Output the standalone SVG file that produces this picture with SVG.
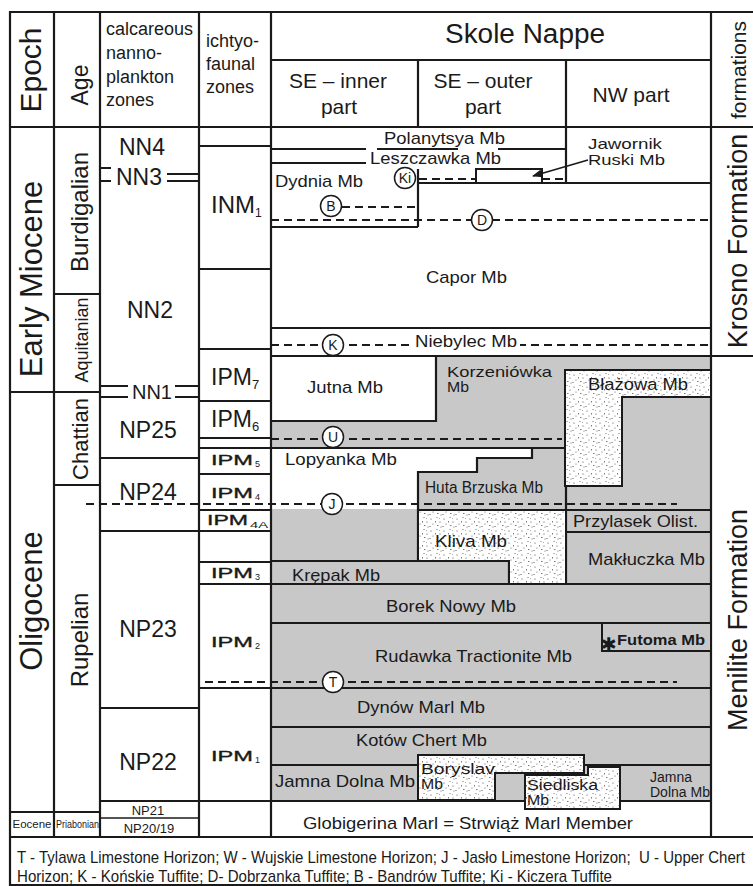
<svg xmlns="http://www.w3.org/2000/svg" width="753" height="886" viewBox="0 0 753 886">
<style>
.ln{stroke:#1a1a1a;stroke-width:2.2;fill:none}
.th{stroke:#1a1a1a;stroke-width:1.5;fill:none}
.ds{stroke:#1a1a1a;stroke-width:2;stroke-dasharray:8 5;fill:none}
.t{font-family:"Liberation Sans",Arial,sans-serif;fill:#1a1a1a}
.b{stroke:#1a1a1a;stroke-width:0.35}
.gr{fill:#c8c8c8}
.st{fill:url(#dots);stroke:#1a1a1a;stroke-width:2}
.cc{fill:#fff;stroke:#1a1a1a;stroke-width:1.5}
.cl{font-family:"Liberation Sans",Arial,sans-serif;font-size:14px;fill:#1a1a1a;text-anchor:middle}
.m{font-size:17px}
.mid{text-anchor:middle}
</style>
<defs>
<pattern id="dots" width="13" height="12" patternUnits="userSpaceOnUse">
<rect width="13" height="12" fill="#fff"/>
<g fill="#444">
<circle cx="2" cy="3" r="0.6"/><circle cx="8" cy="1.5" r="0.5"/><circle cx="11" cy="6" r="0.6"/>
<circle cx="4" cy="8" r="0.5"/><rect x="8" y="9" width="1.5" height="0.7"/><circle cx="12" cy="11" r="0.5"/>
<circle cx="1" cy="10.5" r="0.6"/><rect x="6" y="5" width="0.7" height="1.5"/><circle cx="10.5" cy="2.5" r="0.4"/>
</g>
</pattern>
<marker id="ah" markerWidth="10" markerHeight="8" refX="9" refY="4" orient="auto" markerUnits="userSpaceOnUse">
<path d="M0,0 L10,4 L0,8 Z" fill="#1a1a1a"/>
</marker>
</defs>
<rect width="753" height="886" fill="#fff"/>

<!-- lower main area fills -->
<g id="fills">
<rect class="gr" x="271" y="356" width="440" height="445"/>
<rect x="271" y="356" width="165" height="65" fill="#fff"/>
<polygon points="271,448 532,448 532,458 477,458 477,472 418,472 418,509 271,509" fill="#fff"/>
</g>

<!-- frame and grid -->
<g id="grid">
<path class="ln" d="M10,886 V12 H753 M10,127 H753 M271,60 H711 M10,837 H753 M10,885 H753"/>
<path class="ln" d="M54,12 V837 M100,12 V837 M199,12 V837 M271,12 V837 M711,12 V837 M418,60 V127 M566,60 V184"/>
<path class="ln" d="M10,392 H100 M10,812 H100 M54,294 H100 M54,485 H100 M711,356 H753"/>
<path class="ln" d="M100,168 H111 M100,181 H111 M167,174 H199 M167,181 H199 M100,386 H128 M100,397 H128 M175,386 H199 M175,397 H199 M100,458 H199 M100,531 H199 M100,708 H199 M100,801 H199"/>
<path class="th" d="M100,818 H199"/>
<path class="ln" d="M199,146 H271 M199,269 H271 M199,349 H271 M199,401 H271 M199,438 H271 M199,448 H271 M199,474 H271 M199,510 H271 M199,531 H271 M199,562 H271 M199,584 H271 M199,801 H271"/>
</g>

<!-- Krosno area lines -->
<g id="krosno-lines">
<path class="ln" d="M271,149 H366 M377,149 H458 M498,149 H566 M271,163 H366"/>
<path class="ln" d="M418,169 V227 M418,183 H711 M271,227 H418"/>
<rect x="476" y="169" width="66" height="14" fill="#fff" stroke="#1a1a1a" stroke-width="2"/>
<path class="ds" d="M419,179 H476 M542,179 H566 M342,207 H418 M271,220 H711"/>
<path class="ln" d="M271,328 H711 M271,356 H711"/>
<path class="ds" d="M271,345 H711"/>
<rect x="412" y="334" width="108" height="17" fill="#fff"/>
<line x1="588" y1="160" x2="533" y2="176" stroke="#1a1a1a" stroke-width="1.5" marker-end="url(#ah)"/>
</g>

<!-- Menilite area lines and shapes -->
<g id="menilite-lines">
<path class="ln" d="M436,356 V421 H271"/>
<polygon class="st" points="565,370 711,370 711,397 622,397 622,486 565,486"/>
<path class="ds" d="M271,439 H562"/>
<path class="ln" d="M271,448 H566 M532,448 V458 H477 V472 H418 V561 M566,486 V584"/>
<path class="ln" d="M418,510 H711 M566,532 H711 M271,561 H509 V584 M271,584 H711 M271,623 H711 M199,688 H711 M271,727 H711 M271,765 H711 M271,801 H711"/>
<polygon class="st" points="418,510 566,510 566,584 509,584 509,561 418,561"/>
<rect class="gr" x="602" y="623" width="109" height="28" stroke="#1a1a1a" stroke-width="2"/>
<polygon class="st" points="418,755 584,755 584,773 495,773 495,800 418,800"/>
<polygon class="st" points="525,775 588,775 588,767 620,767 620,809 525,809"/>
<path class="ds" d="M86,504 H677 M205,682 H677"/>
</g>

<!-- horizon markers -->
<g id="markers">
<circle class="cc" cx="405" cy="178" r="10.5"/><text class="cl" x="405" y="183">Ki</text>
<circle class="cc" cx="331" cy="206" r="10.5"/><text class="cl" x="331" y="211">B</text>
<circle class="cc" cx="482" cy="220" r="10.5"/><text class="cl" x="482" y="225">D</text>
<circle class="cc" cx="333" cy="345" r="10.5"/><text class="cl" x="333" y="350">K</text>
<circle class="cc" cx="333" cy="437" r="10.5"/><text class="cl" x="333" y="442">U</text>
<circle class="cc" cx="332" cy="504" r="10.5"/><text class="cl" x="332" y="509">J</text>
<circle class="cc" cx="333" cy="682" r="10.5"/><text class="cl" x="333" y="687">T</text>
</g>

<!-- header -->
<g id="header">
<text class="t mid" font-size="30" transform="translate(41,70) rotate(-90)">Epoch</text>
<text class="t mid" font-size="23" transform="translate(88,85) rotate(-90)">Age</text>
<text class="t" font-size="18"><tspan x="106" y="35">calcareous</tspan><tspan x="106" y="59">nanno-</tspan><tspan x="106" y="83">plankton</tspan><tspan x="106" y="106">zones</tspan></text>
<text class="t" font-size="18"><tspan x="206" y="47">ichtyo-</tspan><tspan x="206" y="70">faunal</tspan><tspan x="206" y="93">zones</tspan></text>
<text class="t mid" font-size="27" x="525" y="43" textLength="160" lengthAdjust="spacingAndGlyphs">Skole Nappe</text>
<text class="t mid" font-size="21"><tspan x="338" y="88">SE – inner</tspan><tspan x="339" y="114">part</tspan></text>
<text class="t mid" font-size="21"><tspan x="483" y="88">SE – outer</tspan><tspan x="483" y="114">part</tspan></text>
<text class="t mid" font-size="21" x="631" y="102">NW part</text>
<text class="t mid" font-size="21" transform="translate(746,70) rotate(-90)">formations</text>
</g>

<!-- epoch / age -->
<g id="epochs">
<text class="t mid" font-size="31" transform="translate(42,279) rotate(-90)">Early Miocene</text>
<text class="t mid" font-size="31" transform="translate(42,601) rotate(-90)">Oligocene</text>
<text class="t mid" font-size="11" x="32" y="828" textLength="39" lengthAdjust="spacingAndGlyphs">Eocene</text>
</g>
<g id="ages">
<text class="t mid" font-size="24" transform="translate(88,212) rotate(-90)">Burdigalian</text>
<text class="t mid" font-size="18" transform="translate(88,340) rotate(-90)">Aquitanian</text>
<text class="t mid" font-size="22" transform="translate(88,439) rotate(-90)">Chattian</text>
<text class="t mid" font-size="24" transform="translate(88,640) rotate(-90)">Rupelian</text>
<text class="t mid" font-size="11" x="77.5" y="828" textLength="43" lengthAdjust="spacingAndGlyphs">Priabonian</text>
</g>

<!-- nannoplankton zones -->
<g id="nanno">
<text class="t mid" font-size="23" x="142" y="155">NN4</text>
<text class="t mid" font-size="23" x="139" y="185">NN3</text>
<text class="t mid" font-size="23" x="150" y="318">NN2</text>
<text class="t mid" font-size="20" x="152" y="399">NN1</text>
<text class="t mid" font-size="23" x="148" y="438">NP25</text>
<text class="t mid" font-size="23" x="148" y="500">NP24</text>
<text class="t mid" font-size="23" x="148" y="637">NP23</text>
<text class="t mid" font-size="23" x="148" y="770">NP22</text>
<text class="t mid" font-size="13" x="148" y="815">NP21</text>
<text class="t mid" font-size="13" x="149" y="833">NP20/19</text>
</g>

<!-- ichthyofaunal zones -->
<g id="ichtyo">
<text class="t" font-size="24" x="211" y="213">INM<tspan font-size="12" dy="4">1</tspan></text>
<text class="t" font-size="23" x="211" y="385">IPM<tspan font-size="13" dy="4">7</tspan></text>
<text class="t" font-size="23" x="211" y="427">IPM<tspan font-size="13" dy="4">6</tspan></text>
<text class="t b" font-size="14" x="211" y="465" textLength="42" lengthAdjust="spacingAndGlyphs">IPM</text><text class="t" font-size="9" x="255" y="467">5</text>
<text class="t b" font-size="14" x="211" y="498" textLength="42" lengthAdjust="spacingAndGlyphs">IPM</text><text class="t" font-size="9" x="255" y="500">4</text>
<text class="t b" font-size="14" x="207" y="525" textLength="41" lengthAdjust="spacingAndGlyphs">IPM</text><text class="t" font-size="9" x="250" y="528" textLength="18" lengthAdjust="spacingAndGlyphs">4A</text>
<text class="t b" font-size="14" x="211" y="578" textLength="42" lengthAdjust="spacingAndGlyphs">IPM</text><text class="t" font-size="9" x="255" y="580">3</text>
<text class="t b" font-size="14" x="211" y="647" textLength="42" lengthAdjust="spacingAndGlyphs">IPM</text><text class="t" font-size="9" x="255" y="649">2</text>
<text class="t b" font-size="14" x="211" y="761" textLength="42" lengthAdjust="spacingAndGlyphs">IPM</text><text class="t" font-size="9" x="255" y="763">1</text>
</g>

<!-- members -->
<g id="members">
<text class="t m" x="384" y="144" textLength="121" lengthAdjust="spacingAndGlyphs">Polanytsya Mb</text>
<text class="t m" x="370" y="164" textLength="131" lengthAdjust="spacingAndGlyphs">Leszczawka Mb</text>
<text class="t m" x="275" y="187" textLength="88" lengthAdjust="spacingAndGlyphs">Dydnia Mb</text>
<text class="t" font-size="15" x="588" y="149" textLength="74" lengthAdjust="spacingAndGlyphs">Jawornik</text>
<text class="t" font-size="15" x="588" y="165" textLength="77" lengthAdjust="spacingAndGlyphs">Ruski Mb</text>
<text class="t m" x="426" y="283" textLength="81" lengthAdjust="spacingAndGlyphs">Capor Mb</text>
<text class="t m" x="415" y="347" textLength="102" lengthAdjust="spacingAndGlyphs">Niebylec Mb</text>
<text class="t m" x="307" y="393" textLength="76" lengthAdjust="spacingAndGlyphs">Jutna Mb</text>
<text class="t" font-size="14.5" x="447" y="377" textLength="105" lengthAdjust="spacingAndGlyphs">Korzeniówka</text>
<text class="t" font-size="14.5" x="447" y="392" textLength="22" lengthAdjust="spacingAndGlyphs">Mb</text>
<text class="t m" x="588" y="390" textLength="100" lengthAdjust="spacingAndGlyphs">Błażowa Mb</text>
<text class="t m" x="285" y="465" textLength="112" lengthAdjust="spacingAndGlyphs">Lopyanka Mb</text>
<text class="t" font-size="16" x="425" y="493" textLength="118" lengthAdjust="spacingAndGlyphs">Huta Brzuska Mb</text>
<text class="t m" x="573" y="527" textLength="125" lengthAdjust="spacingAndGlyphs">Przylasek Olist.</text>
<text class="t m" x="435" y="547" textLength="72" lengthAdjust="spacingAndGlyphs">Kliva Mb</text>
<text class="t m" x="588" y="565" textLength="117" lengthAdjust="spacingAndGlyphs">Makłuczka Mb</text>
<text class="t m" x="292" y="581" textLength="88" lengthAdjust="spacingAndGlyphs">Krępak Mb</text>
<text class="t m" x="386" y="612" textLength="130" lengthAdjust="spacingAndGlyphs">Borek Nowy Mb</text>
<text class="t m" x="375" y="662" textLength="197" lengthAdjust="spacingAndGlyphs">Rudawka Tractionite Mb</text>
<text x="601" y="651" font-family="DejaVu Sans,sans-serif" font-size="19" font-weight="bold" fill="#1a1a1a">✱</text>
<text class="t" font-size="14.5" font-weight="bold" x="617" y="645" textLength="88" lengthAdjust="spacingAndGlyphs">Futoma Mb</text>
<text class="t m" x="357" y="713" textLength="128" lengthAdjust="spacingAndGlyphs">Dynów Marl Mb</text>
<text class="t m" x="356" y="746" textLength="131" lengthAdjust="spacingAndGlyphs">Kotów Chert Mb</text>
<text class="t m" x="275" y="787" textLength="140" lengthAdjust="spacingAndGlyphs">Jamna Dolna Mb</text>
<text class="t" font-size="14" x="421" y="774" textLength="74" lengthAdjust="spacingAndGlyphs">Boryslav</text>
<text class="t" font-size="14" x="421" y="789" textLength="22" lengthAdjust="spacingAndGlyphs">Mb</text>
<text class="t" font-size="14" x="527" y="790" textLength="71" lengthAdjust="spacingAndGlyphs">Siedliska</text>
<text class="t" font-size="14" x="527" y="805" textLength="22" lengthAdjust="spacingAndGlyphs">Mb</text>
<text class="t" font-size="14" x="650" y="782" textLength="42" lengthAdjust="spacingAndGlyphs">Jamna</text>
<text class="t" font-size="14" x="650" y="797" textLength="60" lengthAdjust="spacingAndGlyphs">Dolna Mb</text>
<text class="t m" x="303" y="829" textLength="330" lengthAdjust="spacingAndGlyphs">Globigerina Marl = Strwiąż Marl Member</text>
</g>

<!-- formations -->
<g id="formations">
<text class="t mid" font-size="27" transform="translate(747,241) rotate(-90)">Krosno Formation</text>
<text class="t mid" font-size="27" transform="translate(747,620) rotate(-90)">Menilite Formation</text>
</g>

<!-- legend -->
<g id="legend">
<text class="t" font-size="17" x="17" y="863" textLength="728" lengthAdjust="spacingAndGlyphs" xml:space="preserve">T - Tylawa Limestone Horizon; W - Wujskie Limestone Horizon; J - Jasło Limestone Horizon;  U - Upper Chert</text>
<text class="t" font-size="17" x="17" y="882" textLength="595" lengthAdjust="spacingAndGlyphs">Horizon; K - Końskie Tuffite; D- Dobrzanka Tuffite; B - Bandrów Tuffite; Ki - Kiczera Tuffite</text>
</g>
</svg>
